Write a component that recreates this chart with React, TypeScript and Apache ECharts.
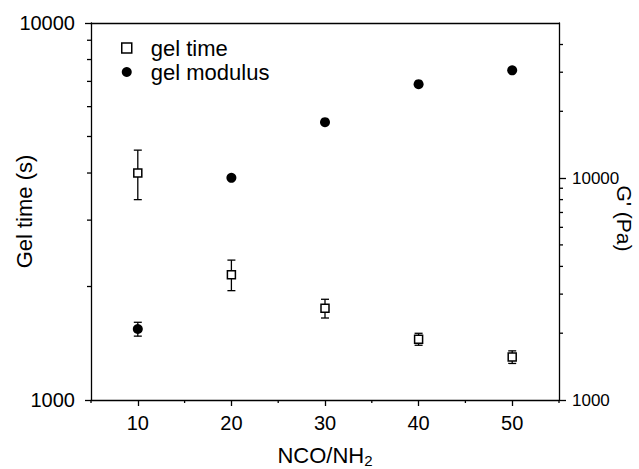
import React, { useEffect, useRef } from "react";
import * as echarts from "echarts";

const ratios = [10, 20, 30, 40, 50];
const gelTime = [4000, 2150, 1750, 1450, 1300];
const gelTimeErr = [600, 200, 100, 53, 50];
const gelModulus = [2090, 10030, 17870, 26500, 30600];
const gelModulusErr = [150, 0, 0, 0, 0];

const X_MIN = 5;
const X_MAX = 55;
const LEFT_MIN = 1000;
const LEFT_MAX = 10000;
const RIGHT_MIN = 1000;
const RIGHT_MAX = 50000;

const xMajorTicks = [10, 20, 30, 40, 50];
const xMinorTicks = [5, 15, 25, 35, 45, 55];
const leftMajorTicks = [1000, 10000];
const leftMinorTicks = [2000, 3000, 4000, 5000, 6000, 7000, 8000, 9000];
const rightMajorTicks = [1000, 10000];
const rightMinorTicks = [2000, 3000, 4000, 5000, 6000, 7000, 8000, 9000, 20000, 30000, 40000];

const FONT = "'Liberation Sans', Arial, sans-serif";

function errorBars(values: number[], errs: number[]) {
  return ratios.map((x, i) => [x, values[i] - errs[i], values[i] + errs[i]]);
}

function renderError(params: any, api: any) {
  const x = api.value(0);
  const lo = api.value(1);
  const hi = api.value(2);
  if (lo === hi) return null;
  const pLo = api.coord([x, lo]);
  const pHi = api.coord([x, hi]);
  const w = 4;
  const style = { stroke: "#000", lineWidth: 1.3 };
  return {
    type: "group",
    children: [
      { type: "line", shape: { x1: pLo[0], y1: pLo[1], x2: pHi[0], y2: pHi[1] }, style },
      { type: "line", shape: { x1: pLo[0] - w, y1: pLo[1], x2: pLo[0] + w, y2: pLo[1] }, style },
      { type: "line", shape: { x1: pHi[0] - w, y1: pHi[1], x2: pHi[0] + w, y2: pHi[1] }, style },
    ],
  };
}

// minor tick renderers: side = 'left' | 'right' | 'bottom'
function tickRenderer(side: string, len: number) {
  return (params: any, api: any) => {
    const cs = params.coordSys;
    const p = api.coord([api.value(0), api.value(1)]);
    const style = { stroke: "#000", lineWidth: 1.3 };
    let shape;
    if (side === "left") shape = { x1: cs.x, y1: p[1], x2: cs.x - len, y2: p[1] };
    else if (side === "right") shape = { x1: cs.x + cs.width, y1: p[1], x2: cs.x + cs.width + len, y2: p[1] };
    else shape = { x1: p[0], y1: cs.y + cs.height, x2: p[0], y2: cs.y + cs.height + len };
    return { type: "line", shape, style };
  };
}

const plainLabel = (v: number) => String(v);

export default function App() {
  const ref = useRef<HTMLDivElement>(null);
  useEffect(() => {
    if (!ref.current) return;
    const chart = echarts.init(ref.current, undefined, { renderer: "svg" });
    const lineStyle = { color: "#000", width: 1.3 };
    chart.setOption({
      animation: false,
      backgroundColor: "#fff",
      textStyle: { fontFamily: FONT, color: "#000" },
      grid: { left: 91, right: 80, top: 23, bottom: 69, containLabel: false, outerBoundsMode: "none" },
      legend: {
        orient: "vertical",
        left: 116,
        top: 32,
        itemWidth: 10,
        itemHeight: 10,
        itemGap: 2,
        textStyle: { fontFamily: FONT, fontSize: 22, color: "#000", padding: [0, 0, 0, 14] },
        data: [
          { name: "gel time", icon: "rect", itemStyle: { color: "#fff", borderColor: "#000", borderWidth: 1.5, opacity: 1 } },
          { name: "gel modulus", icon: "circle", itemStyle: { color: "#000", opacity: 1 } },
        ],
      },
      xAxis: [
        {
          type: "value",
          min: X_MIN,
          max: X_MAX,
          position: "bottom",
          axisLine: { show: true, onZero: false, lineStyle },
          axisTick: { show: true, customValues: xMajorTicks, length: 6, inside: false, lineStyle },
          axisLabel: { customValues: xMajorTicks, fontSize: 20, color: "#000", margin: 13, fontFamily: FONT, formatter: plainLabel },
          splitLine: { show: false },
          name: "NCO/NH{sub|2}",
          nameLocation: "middle",
          nameGap: 43,
          nameMoveOverlap: false,
          nameTextStyle: {
            fontSize: 22,
            color: "#000",
            fontFamily: FONT,
            rich: { sub: { fontSize: 15, verticalAlign: "bottom", padding: [10, 0, 0, 0], fontFamily: FONT } },
          },
        },
        {
          type: "value",
          min: X_MIN,
          max: X_MAX,
          position: "top",
          axisLine: { show: true, onZero: false, lineStyle },
          axisTick: { show: false },
          axisLabel: { show: false },
          splitLine: { show: false },
        },
      ],
      yAxis: [
        {
          type: "log",
          logBase: 10,
          min: LEFT_MIN,
          max: LEFT_MAX,
          position: "left",
          axisLine: { show: true, lineStyle },
          axisTick: { show: true, customValues: leftMajorTicks, length: 6, lineStyle },
          axisLabel: { customValues: leftMajorTicks, fontSize: 20, color: "#000", margin: 16, fontFamily: FONT, formatter: plainLabel },
          splitLine: { show: false },
          name: "Gel time (s)",
          nameLocation: "middle",
          nameGap: 56,
          nameRotate: 90,
          nameMoveOverlap: false,
          nameTextStyle: { fontSize: 22, color: "#000", fontFamily: FONT },
        },
        {
          type: "log",
          logBase: 10,
          min: RIGHT_MIN,
          max: RIGHT_MAX,
          position: "right",
          axisLine: { show: true, lineStyle },
          axisTick: { show: true, customValues: rightMajorTicks, length: 7, lineStyle },
          axisLabel: { customValues: rightMajorTicks, fontSize: 17, color: "#000", margin: 13, fontFamily: FONT, formatter: plainLabel },
          splitLine: { show: false },
          name: "G' (Pa)",
          nameLocation: "middle",
          nameGap: 55,
          nameRotate: -90,
          nameMoveOverlap: false,
          nameTextStyle: { fontSize: 21, color: "#000", fontFamily: FONT, padding: [0, 0, 0, 14] },
        },
      ],
      series: [
        {
          type: "custom",
          name: "x minor ticks",
          xAxisIndex: 0,
          yAxisIndex: 0,
          renderItem: tickRenderer("bottom", 3),
          encode: { x: 0, y: 1 },
          data: xMinorTicks.map((v) => [v, LEFT_MIN]),
          silent: true,
          clip: false,
        },
        {
          type: "custom",
          name: "left minor ticks",
          xAxisIndex: 0,
          yAxisIndex: 0,
          renderItem: tickRenderer("left", 4),
          encode: { x: 0, y: 1 },
          data: leftMinorTicks.map((v) => [X_MIN, v]),
          silent: true,
          clip: false,
        },
        {
          type: "custom",
          name: "right minor ticks",
          xAxisIndex: 0,
          yAxisIndex: 1,
          renderItem: tickRenderer("right", 4),
          encode: { x: 0, y: 1 },
          data: rightMinorTicks.map((v) => [X_MAX, v]),
          silent: true,
          clip: false,
        },
        {
          type: "custom",
          name: "gel time err",
          xAxisIndex: 0,
          yAxisIndex: 0,
          renderItem: renderError,
          encode: { x: 0, y: [1, 2] },
          data: errorBars(gelTime, gelTimeErr),
          z: 1,
          silent: true,
        },
        {
          type: "custom",
          name: "gel modulus err",
          xAxisIndex: 0,
          yAxisIndex: 1,
          renderItem: renderError,
          encode: { x: 0, y: [1, 2] },
          data: errorBars(gelModulus, gelModulusErr),
          z: 1,
          silent: true,
        },
        {
          type: "scatter",
          name: "gel time",
          xAxisIndex: 0,
          yAxisIndex: 0,
          symbol: "rect",
          symbolSize: 8,
          itemStyle: { color: "#fff", borderColor: "#000", borderWidth: 1.5, opacity: 1 },
          data: ratios.map((x, i) => [x, gelTime[i]]),
          z: 3,
        },
        {
          type: "scatter",
          name: "gel modulus",
          xAxisIndex: 0,
          yAxisIndex: 1,
          symbol: "circle",
          symbolSize: 10,
          itemStyle: { color: "#000", opacity: 1 },
          data: ratios.map((x, i) => [x, gelModulus[i]]),
          z: 3,
        },
      ],
    });
    return () => chart.dispose();
  }, []);
  return (
    <div
      ref={ref}
      style={{ position: "fixed", left: 0, top: 0, width: 639, height: 469, background: "#fff" }}
    />
  );
}
